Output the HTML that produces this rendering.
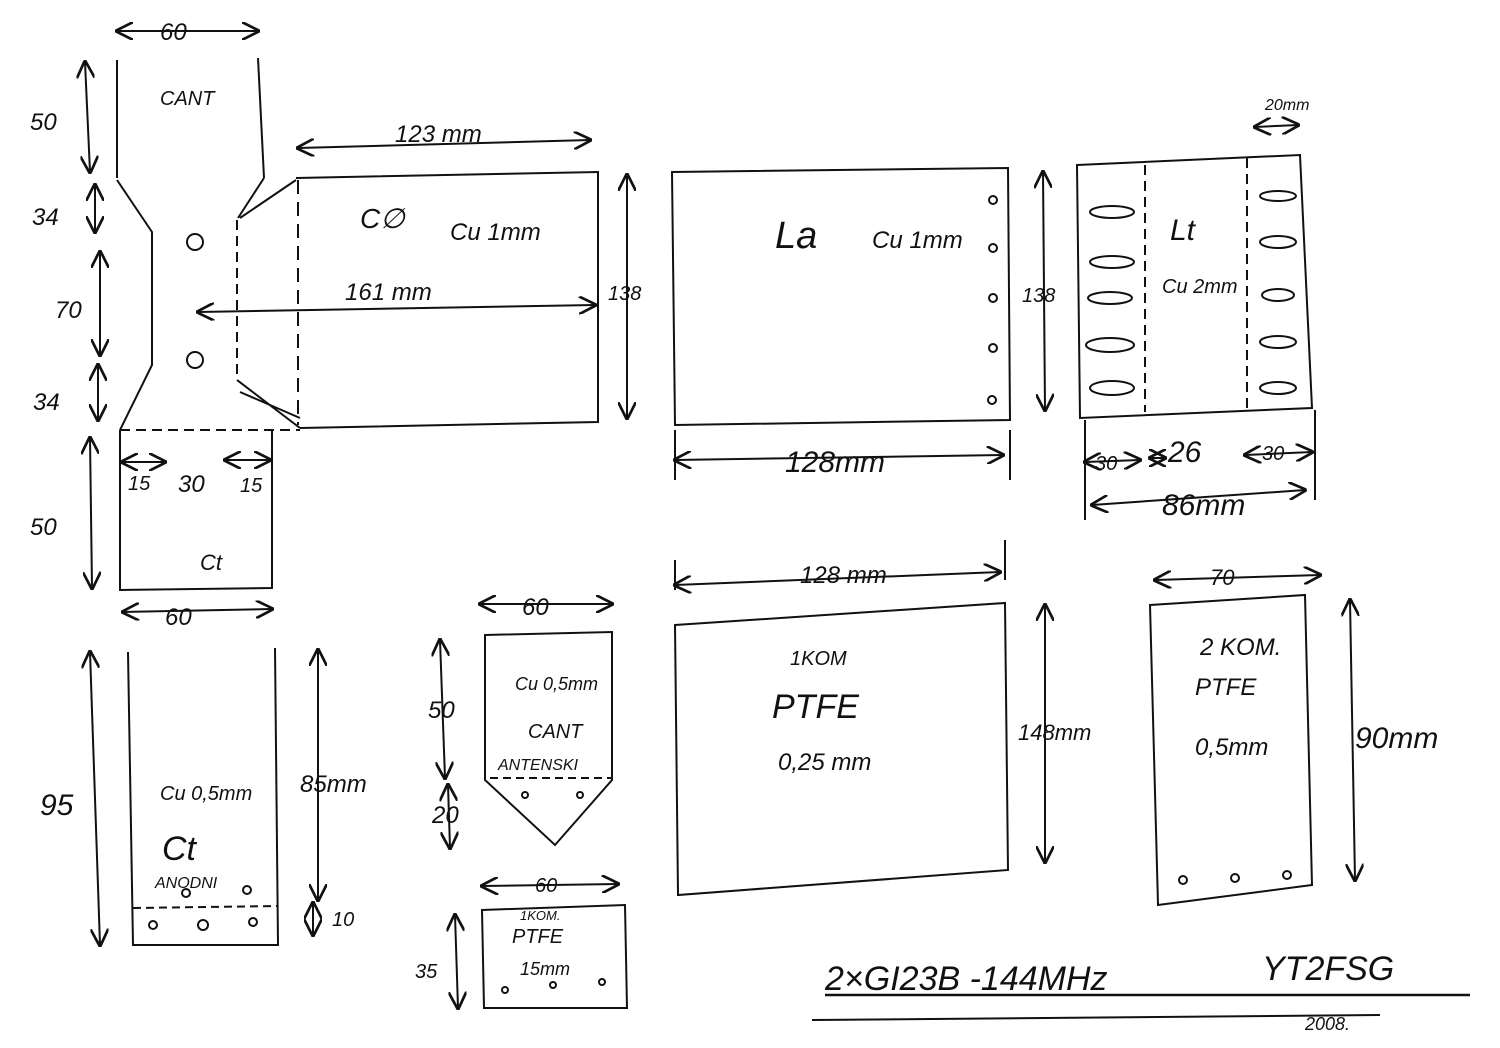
<!DOCTYPE html>
<html><head><meta charset="utf-8"><style>
html,body{margin:0;padding:0;background:#fff}
svg{display:block}
text{font-family:"Liberation Sans",sans-serif;fill:#111;font-style:italic}
</style></head><body>
<svg width="1500" height="1048" viewBox="0 0 1500 1048" xmlns="http://www.w3.org/2000/svg">
<defs><marker id="a" viewBox="0 0 10 10" refX="9" refY="5" markerWidth="9" markerHeight="9" orient="auto-start-reverse"><path d="M0,0 L10,5 L0,10" fill="none" stroke="#111" stroke-width="1.5"/></marker></defs>
<rect width="1500" height="1048" fill="#fff"/>
<g stroke="#111" stroke-width="2" fill="none">
<!-- Cant top -->
<path d="M117,60 L117,178 M258,58 L264,178"/>
<path d="M117,180 L152,232 L152,365 L120,430 M264,178 L238,218 M296,180 L240,218"/>
<path d="M237,220 L237,380" stroke-dasharray="10,6"/>
<path d="M237,380 L300,428 M240,392 L300,418"/>
<circle cx="195" cy="242" r="8"/><circle cx="195" cy="360" r="8"/>
<!-- C0 plate -->
<path d="M296,178 L598,172 L598,422 L300,428"/>
<path d="M298,180 L298,425" stroke-dasharray="14,8"/>
<!-- Ct upper -->
<path d="M120,430 L120,590 L272,588 L272,430"/>
<path d="M120,430 L300,430" stroke-dasharray="10,6"/>
<!-- Ct lower -->
<path d="M128,652 L133,945 L278,945 L275,648"/>
<path d="M133,908 L278,906" stroke-dasharray="8,5"/>
<circle cx="153" cy="925" r="4"/><circle cx="203" cy="925" r="5"/><circle cx="253" cy="922" r="4"/>
<circle cx="186" cy="893" r="4"/><circle cx="247" cy="890" r="4"/>
<!-- Cant antenski -->
<path d="M485,635 L612,632 L612,780 L555,845 L485,780 Z"/>
<path d="M490,778 L612,778" stroke-dasharray="8,5"/>
<circle cx="525" cy="795" r="3"/><circle cx="580" cy="795" r="3"/>
<!-- small PTFE -->
<path d="M482,910 L625,905 L627,1008 L484,1008 Z"/>
<circle cx="505" cy="990" r="3"/><circle cx="553" cy="985" r="3"/><circle cx="602" cy="982" r="3"/>
<!-- La -->
<path d="M672,172 L1008,168 L1010,420 L675,425 Z"/>
<circle cx="993" cy="200" r="4"/><circle cx="993" cy="248" r="4"/><circle cx="993" cy="298" r="4"/><circle cx="993" cy="348" r="4"/><circle cx="992" cy="400" r="4"/>
<!-- Lt -->
<path d="M1077,165 L1300,155 L1312,408 L1080,418 Z"/>
<path d="M1145,165 L1145,412 M1247,158 L1247,410" stroke-dasharray="10,6"/>
<ellipse cx="1112" cy="212" rx="22" ry="6"/><ellipse cx="1112" cy="262" rx="22" ry="6"/><ellipse cx="1110" cy="298" rx="22" ry="6"/><ellipse cx="1110" cy="345" rx="24" ry="7"/><ellipse cx="1112" cy="388" rx="22" ry="7"/>
<ellipse cx="1278" cy="196" rx="18" ry="5"/><ellipse cx="1278" cy="242" rx="18" ry="6"/><ellipse cx="1278" cy="295" rx="16" ry="6"/><ellipse cx="1278" cy="342" rx="18" ry="6"/><ellipse cx="1278" cy="388" rx="18" ry="6"/>
<path d="M1085,420 L1085,520 M1315,410 L1315,500 M1010,430 L1010,480 M675,430 L675,480 M1005,540 L1005,580 M675,560 L675,590"/>
<!-- PTFE big -->
<path d="M675,625 L1005,603 L1008,870 L678,895 Z"/>
<!-- PTFE 2 -->
<path d="M1150,605 L1305,595 L1312,885 L1158,905 Z"/>
<circle cx="1183" cy="880" r="4"/><circle cx="1235" cy="878" r="4"/><circle cx="1287" cy="875" r="4"/>
<!-- dims -->
<g marker-start="url(#a)" marker-end="url(#a)">
<path d="M117,31 L258,31"/><path d="M85,62 L90,172"/><path d="M95,185 L95,232"/><path d="M100,252 L100,355"/><path d="M98,365 L98,420"/>
<path d="M298,148 L590,140"/><path d="M198,312 L595,305"/><path d="M627,175 L627,418"/>
<path d="M90,438 L92,588"/><path d="M122,462 L165,462"/><path d="M225,460 L270,460"/>
<path d="M123,612 L272,609"/><path d="M90,652 L100,945"/><path d="M318,650 L318,900"/><path d="M313,903 L313,935"/>
<path d="M440,640 L445,778"/><path d="M448,785 L450,848"/><path d="M480,604 L612,604"/><path d="M482,886 L618,884"/><path d="M455,915 L458,1008"/>
<path d="M675,460 L1003,455"/><path d="M1043,172 L1045,410"/><path d="M675,585 L1000,572"/><path d="M1045,605 L1045,862"/>
<path d="M1085,462 L1140,460"/><path d="M1150,458 L1165,458"/><path d="M1245,455 L1312,452"/><path d="M1092,505 L1305,490"/>
<path d="M1255,127 L1298,125"/><path d="M1155,580 L1320,575"/><path d="M1350,600 L1355,880"/>
</g>
<path d="M825,995 L1470,995" stroke-width="2.5"/>
<path d="M812,1020 L1380,1015"/>
</g>
<g font-size="24">
<text x="160" y="40">60</text>
<text x="30" y="130">50</text><text x="32" y="225">34</text><text x="55" y="318">70</text><text x="33" y="410">34</text>
<text x="160" y="105" font-size="20">CANT</text>
<text x="395" y="142">123 mm</text>
<text x="360" y="228" font-size="28">C∅</text><text x="450" y="240">Cu 1mm</text>
<text x="345" y="300">161 mm</text>
<text x="608" y="300" font-size="20">138</text>
<text x="30" y="535">50</text>
<text x="128" y="490" font-size="20">15</text><text x="178" y="492">30</text><text x="240" y="492" font-size="20">15</text>
<text x="200" y="570" font-size="22">Ct</text>
<text x="165" y="625">60</text>
<text x="40" y="815" font-size="30">95</text>
<text x="160" y="800" font-size="20">Cu 0,5mm</text>
<text x="162" y="860" font-size="34">Ct</text>
<text x="155" y="888" font-size="16">ANODNI</text>
<text x="300" y="792">85mm</text><text x="332" y="926" font-size="20">10</text>
<text x="522" y="615">60</text>
<text x="428" y="718">50</text><text x="432" y="823">20</text>
<text x="515" y="690" font-size="18">Cu 0,5mm</text>
<text x="528" y="738" font-size="20">CANT</text><text x="498" y="770" font-size="16">ANTENSKI</text>
<text x="535" y="892" font-size="20">60</text>
<text x="520" y="920" font-size="13">1KOM.</text><text x="512" y="943" font-size="20">PTFE</text><text x="520" y="975" font-size="18">15mm</text>
<text x="415" y="978" font-size="20">35</text>
<text x="775" y="248" font-size="38">La</text><text x="872" y="248">Cu 1mm</text>
<text x="1022" y="302" font-size="20">138</text>
<text x="785" y="472" font-size="30">128mm</text>
<text x="1170" y="240" font-size="30">Lt</text><text x="1162" y="293" font-size="20">Cu 2mm</text>
<text x="1265" y="110" font-size="16">20mm</text>
<text x="1095" y="470" font-size="20">30</text><text x="1168" y="462" font-size="30">26</text><text x="1262" y="460" font-size="20">30</text>
<text x="1162" y="515" font-size="30">86mm</text>
<text x="800" y="583">128 mm</text>
<text x="790" y="665" font-size="20">1KOM</text>
<text x="772" y="718" font-size="34">PTFE</text>
<text x="778" y="770">0,25 mm</text>
<text x="1018" y="740" font-size="22">148mm</text>
<text x="1210" y="585" font-size="22">70</text>
<text x="1200" y="655">2 KOM.</text><text x="1195" y="695" font-size="24">PTFE</text><text x="1195" y="755">0,5mm</text>
<text x="1355" y="748" font-size="30">90mm</text>
<text x="825" y="990" font-size="34">2×GI23B -144MHz</text>
<text x="1262" y="980" font-size="34">YT2FSG</text>
<text x="1305" y="1030" font-size="18">2008.</text>
</g>
</svg>
</body></html>
